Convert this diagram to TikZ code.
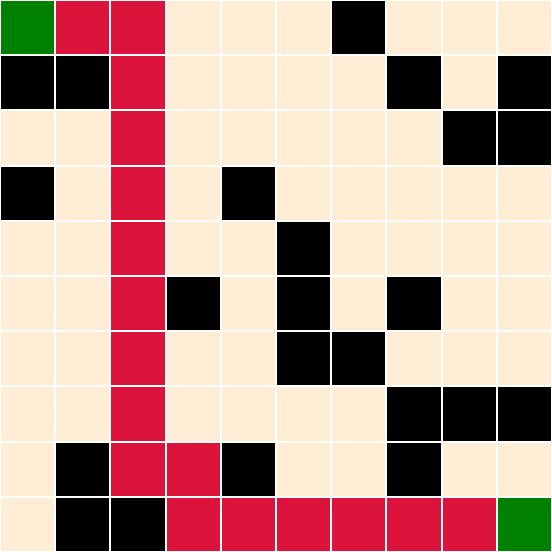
\documentclass[tikz,border=0pt]{standalone}
\definecolor{cream}{HTML}{FFEED5}
\definecolor{wallc}{HTML}{000000}
\definecolor{pathc}{HTML}{DC143C}
\definecolor{endc}{HTML}{008000}
\colorlet{G}{endc}
\colorlet{R}{pathc}
\colorlet{C}{cream}
\colorlet{B}{wallc}
\tikzset{cell/.style={draw=white,line width=1.05pt}}
\begin{document}
\begin{tikzpicture}
\useasboundingbox (0,0) rectangle (10,10);
\fill[white] (0,0) rectangle (10,10);
\foreach \row [count=\r from 0] in {%
{G,R,R,C,C,C,B,C,C,C},%
{B,B,R,C,C,C,C,B,C,B},%
{C,C,R,C,C,C,C,C,B,B},%
{B,C,R,C,B,C,C,C,C,C},%
{C,C,R,C,C,B,C,C,C,C},%
{C,C,R,B,C,B,C,B,C,C},%
{C,C,R,C,C,B,B,C,C,C},%
{C,C,R,C,C,C,C,B,B,B},%
{C,B,R,R,B,C,C,B,C,C},%
{C,B,B,R,R,R,R,R,R,G}} {
  \foreach \c [count=\x from 0] in \row {
    \path[cell,fill=\c] (\x,9-\r) rectangle ++(1,1);
  }
}
\end{tikzpicture}
\end{document}
